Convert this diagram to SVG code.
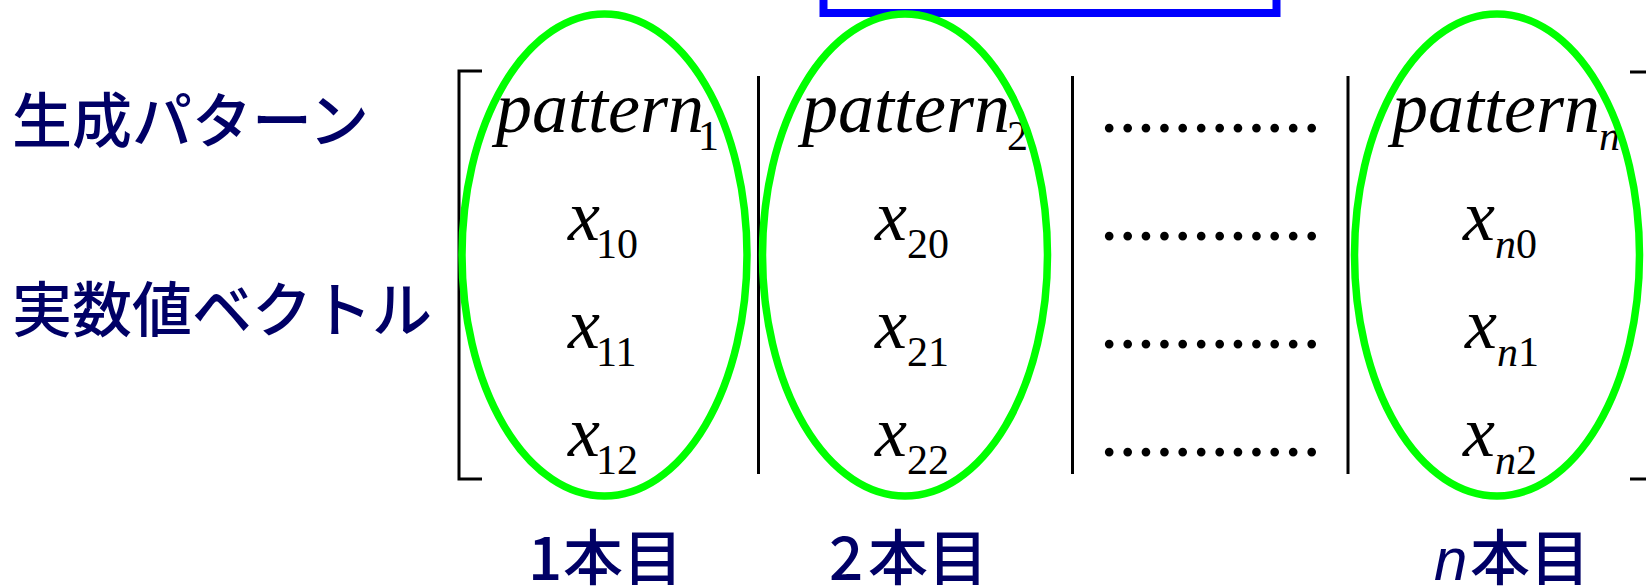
<svg xmlns="http://www.w3.org/2000/svg" width="1646" height="587" viewBox="0 0 1646 587">
<style>
.jp{font-family:"Noto Sans CJK JP","Noto Sans",sans-serif;font-size:60px;font-weight:500;fill:#000066}
.it{font-family:"Liberation Serif",serif;font-style:italic;font-size:72px;fill:#000}
.sub{font-family:"Liberation Serif",serif;font-size:42px;fill:#000}
.subi{font-style:italic}
.dots{font-family:"Liberation Serif",serif;font-size:73.6px;fill:#000}
.ell{fill:none;stroke:#00ff00;stroke-width:7.5}
.ln{stroke:#000;stroke-width:3;fill:none}
</style>
<rect id="bluebox" x="823.5" y="-60" width="453" height="73" fill="none" stroke="#0000ff" stroke-width="8"/>
<g id="label-pattern"><text class="jp" x="12" y="143">生成パターン</text></g>
<g id="label-vector"><text class="jp" x="12" y="332">実数値ベクトル</text></g>
<g id="matrix">
<path class="ln" d="M482 71 H459 V479 H482"/>
<path class="ln" d="M1630 72 H1646 M1630 479 H1646"/>
<line class="ln" x1="758.5" y1="76" x2="758.5" y2="474"/>
<line class="ln" x1="1072.5" y1="76" x2="1072.5" y2="474"/>
<line class="ln" x1="1348" y1="76" x2="1348" y2="474"/>
</g>
<g id="col1">
<text class="it" x="496" y="132">pattern</text><text class="sub" x="698" y="150">1</text>
<text class="it" x="568" y="240">x</text><text class="sub" x="596" y="258">10</text>
<text class="it" x="568" y="348">x</text><text class="sub" x="596" y="366">11</text>
<text class="it" x="568" y="456">x</text><text class="sub" x="596" y="474">12</text>
<ellipse class="ell" cx="604.5" cy="255" rx="142.5" ry="241"/>
<text class="jp" x="528" y="580">1</text><text class="jp" x="563" y="580">本目</text>
</g>
<g id="col2">
<text class="it" x="802" y="132">pattern</text><text class="sub" x="1007" y="150">2</text>
<text class="it" x="875" y="240">x</text><text class="sub" x="907" y="258">20</text>
<text class="it" x="875" y="348">x</text><text class="sub" x="907" y="366">21</text>
<text class="it" x="875" y="456">x</text><text class="sub" x="907" y="474">22</text>
<ellipse class="ell" cx="905" cy="255" rx="142.5" ry="241"/>
<text class="jp" x="829" y="580">2</text><text class="jp" x="868" y="580">本目</text>
</g>
<g id="col-dots">
<text class="dots" x="1100" y="132">............</text>
<text class="dots" x="1100" y="240">............</text>
<text class="dots" x="1100" y="348">............</text>
<text class="dots" x="1100" y="456">............</text>
</g>
<g id="coln">
<text class="it" x="1392" y="132">pattern</text><text class="sub subi" x="1599" y="150">n</text>
<text class="it" x="1463" y="240">x</text><text class="sub" x="1495" y="258"><tspan class="subi">n</tspan>0</text>
<text class="it" x="1465" y="348">x</text><text class="sub" x="1497" y="366"><tspan class="subi">n</tspan>1</text>
<text class="it" x="1463" y="456">x</text><text class="sub" x="1495" y="474"><tspan class="subi">n</tspan>2</text>
<ellipse class="ell" cx="1497" cy="255" rx="142.5" ry="241"/>
<text x="1434" y="580" style="font-family:'Liberation Sans',sans-serif;font-style:italic;font-size:60px;fill:#000066">n</text><text class="jp" x="1470" y="580">本目</text>
</g>
</svg>
